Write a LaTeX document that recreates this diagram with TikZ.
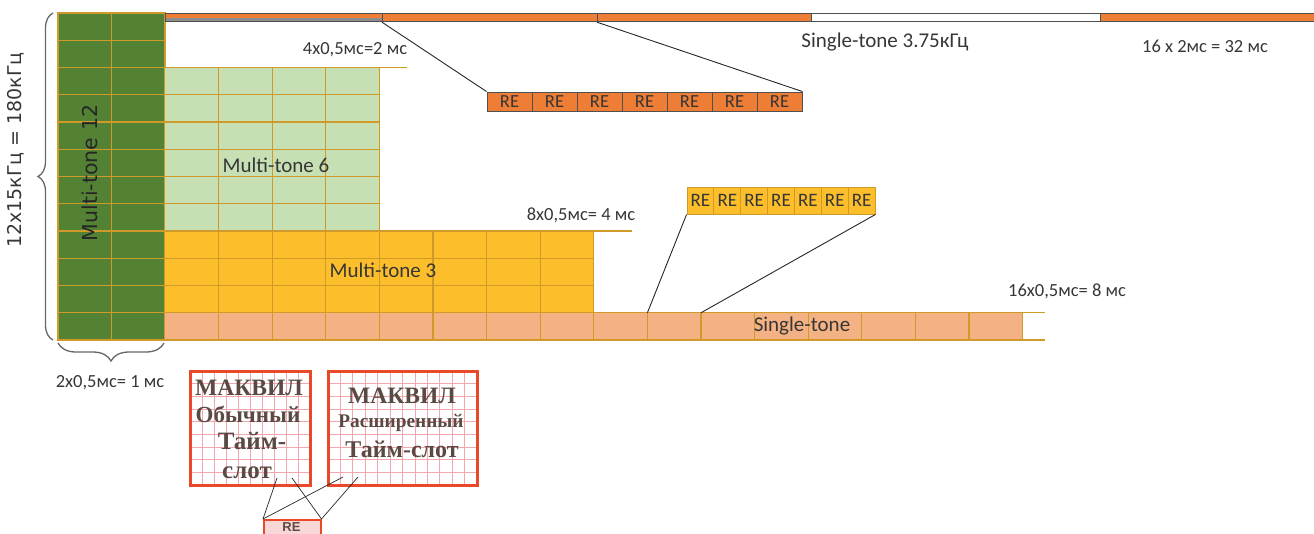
\documentclass[tikz,border=0pt]{standalone}
\usepackage{fontspec}
\setmainfont{Carlito}
\newfontfamily\dejavu{DejaVu Sans}
\newfontfamily\tnr{Liberation Serif}
\newfontfamily\arialf{Liberation Sans}
\usetikzlibrary{decorations.pathreplacing}
\definecolor{dkgreen}{HTML}{548235}
\definecolor{ltgreen}{HTML}{C6E0B4}
\definecolor{yellowc}{HTML}{FDBE2C}
\definecolor{salmon}{HTML}{F4B183}
\definecolor{orangeb}{HTML}{EE7D35}
\definecolor{gridc}{HTML}{CF9A2A}
\definecolor{txt}{HTML}{363636}
\definecolor{barl}{HTML}{505050}
\definecolor{redb}{HTML}{E9482A}
\definecolor{pinkg}{HTML}{F3A6AE}
\definecolor{pinkf}{HTML}{FAD7D7}
\definecolor{mtxt}{HTML}{5A4A44}
\newcommand{\fs}[1]{\fontsize{#1}{#1}\selectfont}
\tikzset{
  gl/.style={draw=gridc, line width=1.1pt},
  barseg/.style={draw=barl, line width=1.2pt, minimum height=8, inner sep=0, anchor=north west},
  recell/.style={draw=barl, line width=0.9pt, fill=orangeb, minimum width=45, minimum height=19, inner sep=0, text=txt, font=\fs{18.5}},
  yrecell/.style={draw=gridc, line width=0.9pt, fill=yellowc, minimum width=26.86, minimum height=27, inner sep=0, text=txt, font=\fs{19}},
  conn/.style={draw=black!85, line width=0.9pt},
  lbl/.style={text=txt, inner sep=0, font=\fs{18.5}},
  big/.style={text=txt, inner sep=0, font=\fs{21}},
  brc/.style={draw=black!60, line width=1.3pt, decorate},
  mbox/.style={draw=redb, line width=3pt, inner sep=0},
  mtext/.style={text=mtxt, inner sep=0, anchor=base, font=\tnr\bfseries},
}
\begin{document}
\begin{tikzpicture}[x=1pt,y=-1pt]
\useasboundingbox (0,0) rectangle (1314,533);
\def\w{53.6}
\def\h{27.25}
% ---- Multi-tone 12 (green)
\fill[dkgreen] (58,13) rectangle (165,340);
\foreach \r in {1,...,11} \draw[gl] (58,{13+\r*\h}) -- (165,{13+\r*\h});
\draw[gl] (111.5,13) -- (111.5,340);
\draw[gl] (58,13) rectangle (165,340);
% ---- Multi-tone 6
\fill[ltgreen] (165,{13+2*\h}) rectangle ({165+4*\w},{13+8*\h});
\foreach \r in {3,...,7} \draw[gl] (165,{13+\r*\h}) -- ({165+4*\w},{13+\r*\h});
\foreach \k in {1,...,4} \draw[gl] ({165+\k*\w},{13+2*\h}) -- ({165+\k*\w},{13+8*\h});
\draw[gl] (165,{13+2*\h}) -- (407,{13+2*\h});
% ---- Multi-tone 3
\fill[yellowc] (165,{13+8*\h}) rectangle ({165+8*\w},{13+11*\h});
\foreach \r in {9,10} \draw[gl] (165,{13+\r*\h}) -- ({165+8*\w},{13+\r*\h});
\foreach \k in {1,...,8} \draw[gl] ({165+\k*\w},{13+8*\h}) -- ({165+\k*\w},{13+11*\h});
\draw[gl] (165,{13+8*\h}) -- (632,{13+8*\h});
% ---- Single-tone row
\fill[salmon] (165,{13+11*\h}) rectangle ({165+16*\w},340);
\foreach \k in {1,...,16} \draw[gl] ({165+\k*\w},{13+11*\h}) -- ({165+\k*\w},340);
\draw[gl] (165,{13+11*\h}) -- (1045,{13+11*\h});
\draw[gl] (165,340) -- (1045,340);
\coordinate (st9) at ({165+9*\w},{13+11*\h});
\coordinate (st10) at ({165+10*\w},{13+11*\h});
% ---- top bar (single-tone 3.75 kHz)
\fill[orangeb] (165,13) rectangle (382,17.5);
\fill[black!45] (165,17.5) rectangle (382,21);
\node[barseg, minimum width=217] (seg1) at (165,13) {};
\node[barseg, fill=orangeb, minimum width=215] (seg2) at (382,13) {};
\node[barseg, fill=orangeb, minimum width=214] (seg3) at (597,13) {};
\node[barseg, fill=white, minimum width=289] (seg4) at (811,13) {};
\node[barseg, fill=orangeb, minimum width=230] (seg5) at (1100,13) {};
% ---- orange RE row
\foreach \i in {1,...,7}
  \node[recell] (re\i) at ({487+45*(\i-0.5)},101.5) {RE};
\draw[conn] (seg2.south west) -- (re1.north west);
\draw[conn] (seg3.south west) -- (re7.north east);
% ---- yellow RE row
\foreach \i in {1,...,7}
  \node[yrecell] (yre\i) at ({687+26.86*(\i-0.5)},200.5) {RE};
\draw[conn] (yre1.south west) -- (st9);
\draw[conn] (yre7.south east) -- (st10);
% ---- labels
\node[lbl] (l2ms) at (355,50) {4x0,5мс=2 мс};
\node[big] (lst) at (885,42) {Single-tone 3.75кГц};
\node[lbl] (l32) at (1205,46) {16 x 2мс = 32 мс};
\node[big] (lmt6) at (276,165) {Multi-tone 6};
\node[lbl] (l4ms) at (581,215) {8x0,5мс= 4 мс};
\node[big] (lmt3) at (383,270) {Multi-tone 3};
\node[lbl] (l8ms) at (1067,291) {16x0,5мс= 8 мс};
\node[big] (lsingle) at (802,326) {Single-tone};
\node[text=black!85, inner sep=0, font=\dejavu\fs{20.5}, rotate=90] (lmt12) at (90,173) {Multi-tone 12};
% ---- braces
\draw[brc, decoration={brace, amplitude=15pt}] (53,340) -- (53,13);
\node[text=txt, inner sep=0, font=\dejavu\fs{19}, rotate=90] (lfreq) at (16,150) {12x15кГц = 180кГц};
\draw[brc, decoration={brace, amplitude=18pt}] (164,343) -- (58,343);
\node[lbl] (l1ms) at (110,383) {2x0,5мс= 1 мс};
% ---- MAKVIL boxes
\foreach \i in {1,...,9} \draw[pinkg, line width=0.8pt] ({190+\i*12},371) -- ({190+\i*12},485);
\foreach \j in {1,...,8} \draw[pinkg, line width=0.8pt] (190,{371+\j*12.67}) -- (310,{371+\j*12.67});
\node[mbox, minimum width=120, minimum height=114] (mk1) at (250,428) {};
\foreach \i in {1,...,11} \draw[pinkg, line width=0.8pt] ({328+\i*12.42},371) -- ({328+\i*12.42},485);
\foreach \j in {1,...,8} \draw[pinkg, line width=0.8pt] (328,{371+\j*12.67}) -- (477,{371+\j*12.67});
\node[mbox, minimum width=149, minimum height=114] (mk2) at (402.5,428) {};
\node[mtext, font=\tnr\bfseries\fs{23.5}] (m1a) at (249,395) {МАКВИЛ};
\node[mtext, font=\tnr\bfseries\fs{23}] (m1b) at (248,422) {Обычный};
\node[mtext, font=\tnr\bfseries\fs{25}] (m1c) at (252,449) {Тайм-};
\node[mtext, font=\tnr\bfseries\fs{25}] (m1d) at (247,478) {слот};
\node[mtext, font=\tnr\bfseries\fs{23.5}] (m2a) at (402,403) {МАКВИЛ};
\node[mtext, font=\tnr\bfseries\fs{19.3}] (m2b) at (401,427) {Расширенный};
\node[mtext, font=\tnr\bfseries\fs{24}] (m2c) at (402,457) {Тайм-слот};
% ---- RE small box
\node[draw=redb, fill=pinkf, line width=1.5pt, minimum width=57, minimum height=30, inner sep=0, anchor=north west] (rebox) at (263,519) {};
\node[text=mtxt, inner sep=0, anchor=base, font=\arialf\bfseries\fs{13}] (retxt) at (291.5,531.5) {RE};
\coordinate (k1a) at (277,478);
\coordinate (k1b) at (292,478);
\coordinate (k2a) at (343,477);
\coordinate (k2b) at (358,477);
\draw[conn, line width=0.7pt] (k1a) -- (rebox.north west);
\draw[conn, line width=0.7pt] (k1b) -- (rebox.north east);
\draw[conn, line width=0.7pt] (k2a) -- (rebox.north west);
\draw[conn, line width=0.7pt] (k2b) -- (rebox.north east);
\end{tikzpicture}
\end{document}
